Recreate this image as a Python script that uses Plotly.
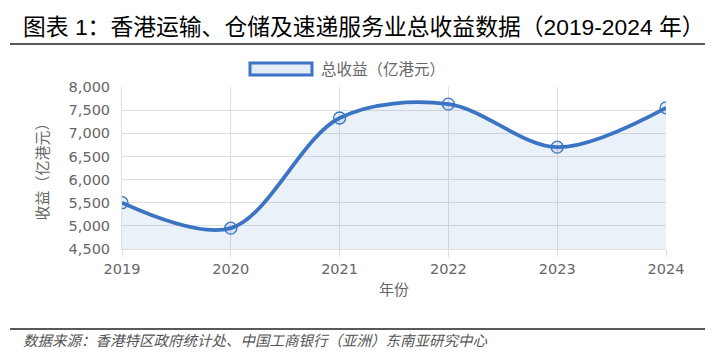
import plotly.graph_objects as go

years = [2019, 2020, 2021, 2022, 2023, 2024]
revenue = [5500, 4950, 7330, 7630, 6700, 7550]
y_ticks = [4500, 5000, 5500, 6000, 6500, 7000, 7500, 8000]
series_name = "总收益（亿港元）"
title_text = "图表 1：香港运输、仓储及速递服务业总收益数据（2019-2024 年）"
source_text = "数据来源：香港特区政府统计处、中国工商银行（亚洲）东南亚研究中心"

blue = "#3a74c2"
fill = "rgba(58,116,194,0.10)"
grid = "#dedede"
cjk = "Liberation Sans, Noto Sans CJK SC"
tick_font = dict(family="DejaVu Sans, Verdana, sans-serif", size=14.5, color="#666")

L, R, T, B = 122, 666, 87, 249  # plot area in pixels

fig = go.Figure()
fig.add_trace(go.Scatter(
    x=years, y=revenue, name=series_name,
    mode="lines+markers",
    line=dict(color=blue, width=3.8, shape="spline", smoothing=0.95),
    marker=dict(size=12, color="rgba(58,116,194,0.12)", line=dict(color=blue, width=1.3)),
    fill="tozeroy", fillcolor=fill,
    showlegend=False,
))

fig.update_layout(
    width=712, height=358, autosize=False,
    margin=dict(l=L, r=712 - R, t=T, b=358 - B),
    paper_bgcolor="white", plot_bgcolor="white",
    xaxis=dict(
        range=[2019, 2024], tickvals=years, ticktext=[str(y) for y in years],
        showgrid=True, gridcolor=grid, gridwidth=1,
        ticks="outside", ticklen=7, tickcolor=grid,
        showline=True, linecolor=grid, zeroline=False,
        tickfont=tick_font,
        title=dict(text="年份", font=dict(family=cjk, size=15, color="#666"), standoff=8),
    ),
    yaxis=dict(
        range=[4500, 8000], tickvals=y_ticks, tickformat=",",
        showgrid=True, gridcolor=grid, gridwidth=1,
        ticks="outside", ticklen=8, tickcolor="rgba(0,0,0,0)",
        showline=True, linecolor=grid, zeroline=False,
        tickfont=tick_font,
        title=dict(text="收益（亿港元）", font=dict(family=cjk, size=15, color="#666"), standoff=16),
    ),
)


def px_x(px):
    return (px - L) / (R - L)


def px_y(py):
    return (B - py) / (B - T)


fig.add_annotation(x=px_x(21), y=px_y(27), xref="x domain", yref="y domain", text=title_text,
                   showarrow=False, xanchor="left", yanchor="middle",
                   font=dict(family=cjk, size=22.8, color="#000"))
fig.add_annotation(x=px_x(21), y=px_y(341), xref="x domain", yref="y domain", text="<i>" + source_text + "</i>",
                   showarrow=False, xanchor="left", yanchor="middle",
                   font=dict(family=cjk, size=14.5, color="#555"))
fig.add_annotation(x=px_x(319), y=px_y(69), xref="x domain", yref="y domain", text=series_name,
                   showarrow=False, xanchor="left", yanchor="middle",
                   font=dict(family=cjk, size=15.5, color="#666"))
fig.add_shape(type="line", xref="x domain", yref="y domain", x0=px_x(10), x1=px_x(705), y0=px_y(44), y1=px_y(44),
              line=dict(color="#222", width=1.5))
fig.add_shape(type="line", xref="x domain", yref="y domain", x0=px_x(10), x1=px_x(705), y0=px_y(329), y1=px_y(329),
              line=dict(color="#222", width=1.5))
fig.add_shape(type="rect", xref="x domain", yref="y domain", x0=px_x(250), x1=px_x(312), y0=px_y(63), y1=px_y(75),
              line=dict(color=blue, width=3), fillcolor="#e4ecf8")

fig.write_html("out.html", config={"displayModeBar": False},
               post_script="document.body.style.margin='0';document.body.style.overflow='hidden';")
